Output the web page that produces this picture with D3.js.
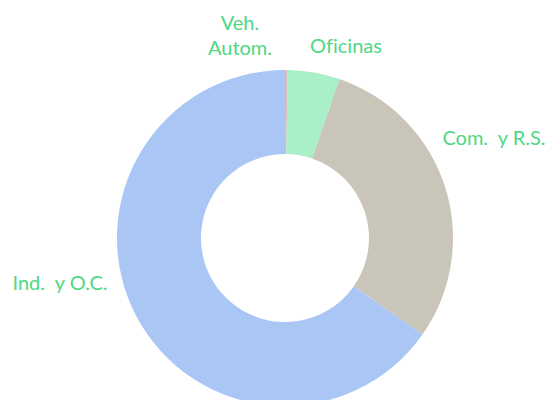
<!DOCTYPE html>
<html>
<head>
<meta charset="utf-8">
<script src="https://cdn.jsdelivr.net/npm/d3@7"></script>
<style>
  body { margin: 0; background: #fff; }
  .lbl { font-family: Lato, "Open Sans", sans-serif; font-size: 20px; fill: #4fd783; white-space: pre; font-variant-ligatures: none; }
</style>
</head>
<body>
<div id="chart"></div>
<script>
// data (share of total, %)
var categories = ["Veh. Autom.", "Oficinas", "Com.  y R.S.", "Ind.  y O.C."];
var values = [0.25, 5.0, 29.5, 65.25];
var colors = ["#e8b4b4", "#a9efc7", "#c9c5b9", "#aac6f5"];

// label layout: lines and baseline of first line (page coords)
var labelLines = [["Veh.", "Autom."], ["Oficinas"], ["Com.  y R.S."], ["Ind.  y O.C."]];
var labelPos = [[240, 30], [346, 53], [494, 145], [60, 290]];

var svgWidth = 547;
var svgHeight = 400;
var cx = 285, cy = 238;
var outerR = 168, innerR = 84;

var svg = d3.select("#chart")
  .append("svg")
  .attr("width", svgWidth)
  .attr("height", svgHeight);

var pie = d3.pie().sort(null).value(d => d);
var arc = d3.arc().innerRadius(innerR).outerRadius(outerR);

var g = svg.append("g")
  .attr("transform", `translate(${cx}, ${cy})`);

g.selectAll("path")
  .data(pie(values))
  .enter()
  .append("path")
  .attr("d", arc)
  .attr("fill", (d, i) => colors[i]);

// labels
var lbl = svg.selectAll("text.lbl")
  .data(categories)
  .enter()
  .append("text")
  .attr("class", "lbl")
  .attr("text-anchor", "middle")
  .attr("x", (d, i) => labelPos[i][0])
  .attr("y", (d, i) => labelPos[i][1]);

lbl.each(function(d, i) {
  var t = d3.select(this);
  labelLines[i].forEach(function(line, j) {
    t.append("tspan")
      .attr("x", labelPos[i][0])
      .attr("dy", j === 0 ? 0 : 25)
      .text(line);
  });
});
</script>
</body>
</html>
